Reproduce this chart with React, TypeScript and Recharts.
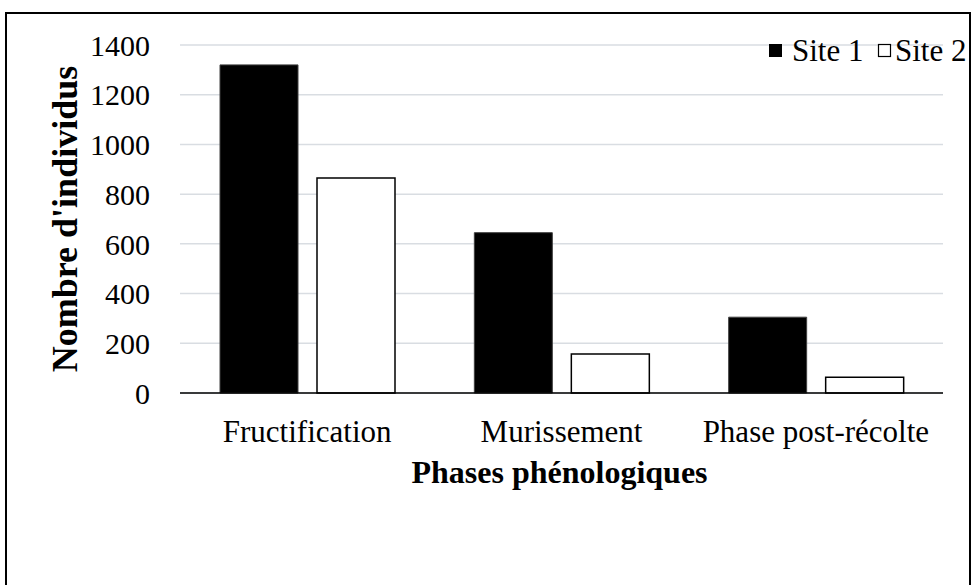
import { Bar, BarChart, CartesianGrid, XAxis, YAxis } from "recharts";

const phases = ["Fructification", "Murissement", "Phase post-récolte"];
const site1 = [1320, 645, 305];
const site2 = [865, 157, 63];
const yTicks = [0, 200, 400, 600, 800, 1000, 1200, 1400];
const seriesNames = ["Site 1", "Site 2"];

const data = phases.map((phase, i) => ({
  phase,
  site1: site1[i],
  site2: site2[i],
}));

const FONT = "'Liberation Serif', 'Times New Roman', serif";

const YTitle = (props: any) => {
  const vb = props.viewBox;
  return (
    <text
      transform={`translate(${vb.x + 17},${vb.y + vb.height / 2}) rotate(-90)`}
      textAnchor="middle"
      fontFamily={FONT}
      fontWeight="bold"
      fontSize={36}
      fill="#000"
    >
      Nombre d'individus
    </text>
  );
};

const XTitle = (props: any) => {
  const vb = props.viewBox;
  return (
    <text
      x={vb.x + vb.width / 2 - 2}
      y={483}
      textAnchor="middle"
      fontFamily={FONT}
      fontWeight="bold"
      fontSize={32}
      fill="#000"
    >
      Phases phénologiques
    </text>
  );
};

export default function App() {
  return (
    <div
      style={{
        position: "absolute",
        left: 0,
        top: 0,
        width: 973,
        height: 585,
        overflow: "hidden",
        background: "#fff",
      }}
    >
      <BarChart
        width={973}
        height={585}
        data={data}
        margin={{ top: 45, right: 30, bottom: 132, left: 60 }}
        barSize={78}
        barGap={19}
      >
        <CartesianGrid vertical={false} stroke="#d9dde2" strokeWidth={1.5} />
        <XAxis
          dataKey="phase"
          height={60}
          tickLine={false}
          tickSize={0}
          tickMargin={27}
          axisLine={{ stroke: "#000", strokeWidth: 1.5 }}
          tick={{ fill: "#000", fontSize: 31, fontFamily: FONT }}
          label={<XTitle />}
        />
        <YAxis
          width={120}
          domain={[0, 1400]}
          ticks={yTicks}
          interval={0}
          tickLine={false}
          axisLine={false}
          tickSize={0}
          tickMargin={30}
          tick={{ fill: "#000", fontSize: 30, fontFamily: FONT }}
          label={<YTitle />}
        />
        <Bar
          dataKey="site1"
          name={seriesNames[0]}
          fill="#000"
          stroke="#404040"
          strokeWidth={1}
          isAnimationActive={false}
        />
        <Bar
          dataKey="site2"
          name={seriesNames[1]}
          fill="#fff"
          stroke="#000"
          strokeWidth={1.5}
          isAnimationActive={false}
        />
      </BarChart>

      {/* legend, top right */}
      <svg
        width={973}
        height={585}
        style={{ position: "absolute", left: 0, top: 0, pointerEvents: "none" }}
      >
        <rect x={769} y={44} width={13} height={13} fill="#000" />
        <text x={792} y={61} fontFamily={FONT} fontSize={31} fill="#000">
          {seriesNames[0]}
        </text>
        <rect x={878.5} y={44.5} width={12} height={12} fill="#fff" stroke="#000" strokeWidth={1.2} />
        <text x={895} y={61} fontFamily={FONT} fontSize={31} fill="#000">
          {seriesNames[1]}
        </text>
      </svg>

      {/* outer frame */}
      <div
        style={{
          position: "absolute",
          left: 5,
          top: 12,
          width: 962,
          height: 700,
          border: "2px solid #000",
          pointerEvents: "none",
        }}
      />
    </div>
  );
}
